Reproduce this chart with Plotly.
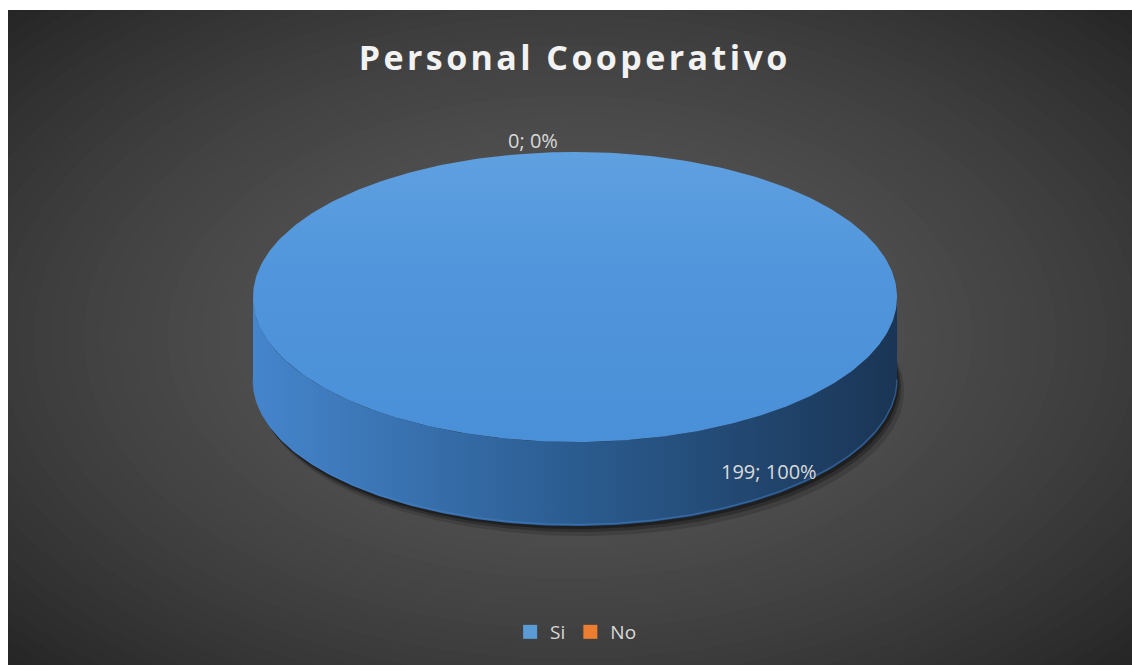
import numpy as np
import plotly.graph_objects as go

# ---- data ----
title_text = "Personal Cooperativo"
categories = ["Si", "No"]
values = [199, 0]
colors = ["#5B9BD5", "#ED7D31"]

# ---- geometry (pixel space) ----
W, H = 1132, 665
CX, CY = 575, 297      # top-face centre
RX, RY = 322, 145      # top-face radii
DEPTH = 84             # disc thickness

total = sum(values)
pcts = [v / total * 100 for v in values]

def ell(theta, dy=0, dx=0):
    # theta measured clockwise from top (radians)
    return CX + dx + RX * np.sin(theta), CY + dy - RY * np.cos(theta)

fig = go.Figure()

# background radial gradient via concentric ellipses
BGX, BGY = 570, 337
N = 48
shapes = [dict(type="rect", xref="x", yref="y", x0=8, x1=W, y0=10, y1=H,
               fillcolor="#262626", line=dict(width=0), layer="below")]
for i in range(N):
    r = 1.15 * (1 - i / N)
    c = 86 - 48 * min(1.0, (r / 1.12) ** 1.8)
    c = int(round(c))
    shapes.append(dict(type="circle", xref="x", yref="y",
                       x0=BGX - 700 * r, x1=BGX + 700 * r,
                       y0=BGY - 420 * r, y1=BGY + 420 * r,
                       fillcolor=f"rgb({c},{c},{c})", line=dict(width=0),
                       layer="below"))

# shadow under the disc
t = np.linspace(0, 2 * np.pi, 361)
for (dx, dy, a) in [(7, 10, 0.15), (4, 6, 0.25), (2, 3, 0.35)]:
    sx, sy = ell(t, dy=DEPTH + dy, dx=dx)
    fig.add_trace(go.Scatter(x=sx, y=sy, mode="lines", fill="toself",
                             fillcolor=f"rgba(0,0,0,{a})", line=dict(width=0),
                             hoverinfo="skip", showlegend=False))

# slices
start = 0.0
for cat, v, col in zip(categories, values, colors):
    span = v / total * 2 * np.pi
    if span <= 0:
        start += span
        continue
    a0, a1 = start, start + span
    # side (front visible part: angles between pi/2 and 3pi/2)
    s0, s1 = max(a0, np.pi / 2), min(a1, 3 * np.pi / 2)
    if s1 > s0:
        ts = np.linspace(s0, s1, 200)
        tx, ty = ell(ts)
        bx, by = ell(ts[::-1], dy=DEPTH)
        fig.add_trace(go.Scatter(
            x=np.concatenate([tx, bx]), y=np.concatenate([ty, by]),
            mode="lines", fill="toself", line=dict(width=0),
            fillgradient=dict(type="horizontal",
                              colorscale=[[0, "#4585CC"], [0.5, "#2B5C90"], [1, "#1A3555"]]),
            hoverinfo="skip", showlegend=False))
        # thin lighter rim at bottom edge
        fig.add_trace(go.Scatter(x=bx, y=by - 1.5, mode="lines",
                                 line=dict(width=1.5, color="rgba(70,130,200,0.5)"),
                                 hoverinfo="skip", showlegend=False))
    # top face
    tt = np.linspace(a0, a1, 361)
    fx, fy = ell(tt)
    if span < 2 * np.pi - 1e-9:
        fx = np.concatenate([[CX], fx, [CX]])
        fy = np.concatenate([[CY], fy, [CY]])
    fig.add_trace(go.Scatter(
        x=fx, y=fy, mode="lines", fill="toself", line=dict(width=0),
        fillgradient=dict(type="vertical",
                          colorscale=[[0, "#4A90D8"], [0.6, "#5196DC"], [1, "#5FA0E0"]]),
        hoverinfo="skip", showlegend=False))
    start += span

# legend entries
for cat, col in zip(categories, colors):
    fig.add_trace(go.Scatter(x=[None], y=[None], mode="markers", name=cat,
                             marker=dict(symbol="square", size=14, color=col)))

# data labels
label_pos = [(769, 471), (533, 140)]
annotations = []
for (lx, ly), v, p in zip(label_pos, values, pcts):
    annotations.append(dict(x=lx, y=ly, xref="x", yref="y", showarrow=False,
                            text=f"{v}; {p:.0f}%",
                            font=dict(family="Open Sans", size=20, color="#D9D9D9")))

# letter-spaced title (hair spaces between characters)
spaced_title = "\u200a".join(title_text)

fig.update_layout(
    width=W, height=H,
    margin=dict(l=8, r=0, t=10, b=0),
    paper_bgcolor="white", plot_bgcolor="#262626",
    shapes=shapes, annotations=annotations,
    title=dict(text=spaced_title, x=573 / W, xanchor="center", y=1 - 58 / H, yanchor="middle",
               font=dict(family="Open Sans", size=34, color="#F2F2F2", weight="bold")),
    xaxis=dict(range=[8, W], visible=False, fixedrange=True),
    yaxis=dict(range=[H, 10], visible=False, fixedrange=True),
    showlegend=True,
    legend=dict(orientation="h", x=0.505, xanchor="center", y=(H - 632) / (H - 10), yanchor="middle",
                bgcolor="rgba(0,0,0,0)", font=dict(family="Open Sans", size=19, color="#D9D9D9"),
                itemsizing="trace", itemwidth=30, tracegroupgap=0),
)

fig.write_html("out.html")
